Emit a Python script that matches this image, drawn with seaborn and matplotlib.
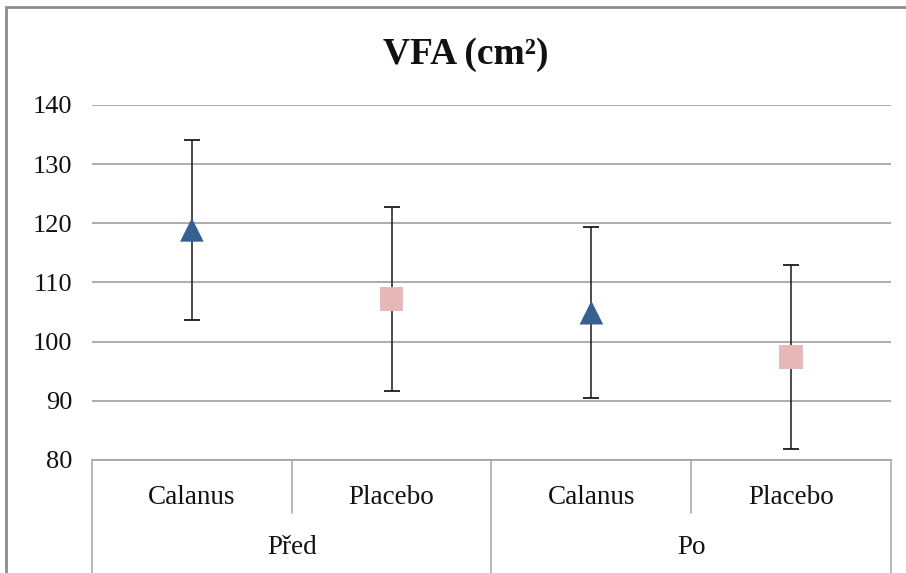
import matplotlib
matplotlib.use("Agg")
import matplotlib.pyplot as plt
import matplotlib.patches as mpatches
import seaborn as sns
import pandas as pd

# ---- data ----
groups = ["Před", "Před", "Po", "Po"]
treatments = ["Calanus", "Placebo", "Calanus", "Placebo"]
means = [118.9, 107.2, 104.9, 97.4]
errors = [15.2, 15.5, 14.5, 15.5]
group_labels = ["Před", "Po"]
yticks = [80, 90, 100, 110, 120, 130, 140]
title = "VFA (cm²)"

sns.set_theme(style="white")
plt.rcParams["font.family"] = ["Liberation Serif", "DejaVu Serif"]

df = pd.DataFrame({"group": groups, "treatment": treatments,
                   "mean": means, "err": errors})
df["pos"] = range(len(df))

fig = plt.figure(figsize=(9.06, 5.73), dpi=100)
ax = fig.add_axes([92/906, 1-460/573, (891-92)/906, (460-105)/573])

# error bars behind markers
ax.errorbar(df["pos"], df["mean"], yerr=df["err"], fmt="none",
            ecolor="#1a1a1a", elinewidth=1.1, capsize=5.5, capthick=1.3, zorder=2)

sns.scatterplot(data=df, x="pos", y="mean", hue="treatment", style="treatment",
                palette={"Calanus": "#376092", "Placebo": "#E6B9B8"},
                markers={"Calanus": "^", "Placebo": "s"},
                s=290, linewidth=0, legend=False, ax=ax, zorder=3)

ax.set_xlim(-0.5, 3.5)
ax.set_ylim(80, 140)
ax.set_yticks(yticks)
ax.set_yticklabels([str(t) for t in yticks], fontsize=19, color="#111111")
ax.yaxis.grid(True, color="#A6A6A6", linewidth=1.3)
ax.xaxis.grid(False)
ax.tick_params(axis="y", length=0, pad=14)
ax.tick_params(axis="x", length=0, pad=18)
ax.set_xticks(df["pos"])
ax.set_xticklabels(df["treatment"], fontsize=19.5, color="#111111")
ax.set_xlabel("")
ax.set_ylabel("")
for s in ["left", "right", "top"]:
    ax.spines[s].set_visible(False)
ax.spines["bottom"].set_color("#A6A6A6")
ax.spines["bottom"].set_linewidth(1.3)

# multi-level category axis lines
trans = ax.get_xaxis_transform()
ax_h = 460 - 105
for x in [-0.5, 1.5, 3.5]:
    ax.plot([x, x], [0, -120/ax_h], transform=trans, color="#A6A6A6",
            linewidth=1.1, clip_on=False)
for x in [0.5, 2.5]:
    ax.plot([x, x], [0, -53/ax_h], transform=trans, color="#A6A6A6",
            linewidth=1.1, clip_on=False)
for i, g in enumerate(group_labels):
    ax.text(0.5 + 2*i, -88/ax_h, g, transform=trans, ha="center", va="center",
            fontsize=19.5, color="#111111")

fig.suptitle(title, x=466/906, y=1-55/573, va="center",
             fontsize=27, fontweight="bold", color="#111111")

# chart area border
fig.patches.append(mpatches.Rectangle((6/906, -0.2), 1.2, 1-7/573+0.2,
                                      transform=fig.transFigure, fill=False,
                                      edgecolor="#8C8C8C", linewidth=2))

fig.savefig("out.png", dpi=100)
